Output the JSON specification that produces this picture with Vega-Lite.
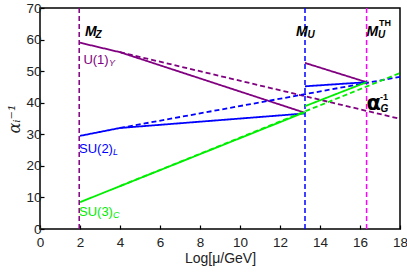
{
  "$schema": "https://vega.github.io/schema/vega-lite/v6.json",
  "width": 360,
  "height": 221,
  "autosize": {"type": "none"},
  "padding": {"left": 40, "top": 8, "right": 7, "bottom": 44},
  "background": "white",
  "config": {
    "view": {"stroke": "black", "strokeWidth": 1.5},
    "font": "Liberation Sans",
    "axis": {"grid": false, "domain": false, "tickColor": "black", "tickSize": -4, "tickWidth": 1.2, "labelFont": "Liberation Sans", "labelFontSize": 13.5, "labelColor": "#222", "labelOverlap": false, "labelFlush": false, "titleFont": "Liberation Sans", "titleFontSize": 14, "titleFontWeight": "normal", "titleColor": "#222", "labelPadding": 3}
  },
  "datasets": {
    "curves": [
      {"group": "U1", "seg": "U1a", "kind": "solid", "x": 2, "y": 59},
      {"group": "U1", "seg": "U1a", "kind": "solid", "x": 4, "y": 56},
      {"group": "U1", "seg": "U1a", "kind": "solid", "x": 13.25, "y": 36.8},
      {"group": "U1", "seg": "U1b", "kind": "solid", "x": 13.25, "y": 52.6},
      {"group": "U1", "seg": "U1b", "kind": "solid", "x": 16.33, "y": 46.5},
      {"group": "U1", "seg": "U1d", "kind": "dashed", "x": 4, "y": 56},
      {"group": "U1", "seg": "U1d", "kind": "dashed", "x": 18, "y": 34.9},
      {"group": "SU2", "seg": "SU2a", "kind": "solid", "x": 2, "y": 29.5},
      {"group": "SU2", "seg": "SU2a", "kind": "solid", "x": 4, "y": 32},
      {"group": "SU2", "seg": "SU2a", "kind": "solid", "x": 13.25, "y": 36.6},
      {"group": "SU2", "seg": "SU2b", "kind": "solid", "x": 13.25, "y": 45.2},
      {"group": "SU2", "seg": "SU2b", "kind": "solid", "x": 16.33, "y": 46.5},
      {"group": "SU2", "seg": "SU2d", "kind": "dashed", "x": 4, "y": 32},
      {"group": "SU2", "seg": "SU2d", "kind": "dashed", "x": 18, "y": 48.2},
      {"group": "SU3", "seg": "SU3a", "kind": "solid", "x": 2, "y": 8.5},
      {"group": "SU3", "seg": "SU3a", "kind": "solid", "x": 13.25, "y": 37.0},
      {"group": "SU3", "seg": "SU3b", "kind": "solid", "x": 13.25, "y": 38.9},
      {"group": "SU3", "seg": "SU3b", "kind": "solid", "x": 16.33, "y": 46.5},
      {"group": "SU3", "seg": "SU3d", "kind": "dashed", "x": 4, "y": 13.6},
      {"group": "SU3", "seg": "SU3d", "kind": "dashed", "x": 18, "y": 49.4}
    ],
    "scales": [
      {"group": "MZ", "x": 1.96},
      {"group": "MU", "x": 13.25},
      {"group": "MUTH", "x": 16.33}
    ],
    "names": [
      {"group": "U1", "text": "U(1)", "x": 2.17, "y": 52.3},
      {"group": "SU2", "text": "SU(2)", "x": 1.95, "y": 24.1},
      {"group": "SU3", "text": "SU(3)", "x": 1.95, "y": 4.2}
    ],
    "namesubs": [
      {"group": "U1", "text": "Y", "x": 3.45, "y": 51.6},
      {"group": "SU2", "text": "L", "x": 3.65, "y": 23.4},
      {"group": "SU3", "text": "C", "x": 3.65, "y": 3.6}
    ],
    "masses": [
      {"text": "M", "x": 2.25, "y": 61.0},
      {"text": "M", "x": 12.8, "y": 61.0},
      {"text": "M", "x": 16.33, "y": 61.0}
    ],
    "masssubs": [
      {"text": "Z", "x": 2.78, "y": 60.6},
      {"text": "U", "x": 13.38, "y": 60.5},
      {"text": "U", "x": 16.9, "y": 60.5}
    ],
    "masssups": [
      {"text": "TH", "x": 16.95, "y": 64.2}
    ],
    "alpha": [
      {"text": "α", "x": 16.33, "y": 37.8}
    ],
    "alphasub": [
      {"text": "G", "x": 17.03, "y": 37.1}
    ],
    "alphasup": [
      {"text": "-1", "x": 17.0, "y": 40.8}
    ]
  },
  "encoding": {
    "x": {"field": "x", "type": "quantitative", "scale": {"domain": [0, 18], "nice": false}, "axis": {"values": [0, 2, 4, 6, 8, 10, 12, 14, 16, 18], "labelOverlap": false, "labelPadding": 10, "title": "Log[μ/GeV]", "titlePadding": 3}}
  },
  "layer": [
    {
      "data": {"name": "scales"},
      "mark": {"type": "rule", "strokeWidth": 1.5, "strokeDash": [5, 3]},
      "encoding": {
        "color": {"field": "group", "type": "nominal", "scale": {"domain": ["MZ", "MU", "MUTH", "U1", "SU2", "SU3"], "range": ["#800080", "#0000ff", "#ff00ff", "#800080", "#0000ff", "#00ee00"]}, "legend": null}
      }
    },
    {
      "encoding": {
        "y": {"field": "y", "type": "quantitative", "scale": {"domain": [0, 70], "nice": false}, "axis": {"values": [0, 10, 20, 30, 40, 50, 60, 70], "labelOverlap": false, "title": "αᵢ⁻¹", "titleFont": "DejaVu Serif", "titleFontStyle": "italic", "titleFontSize": 16, "titlePadding": 3}}
      },
      "layer": [
        {
          "data": {"name": "curves"},
          "mark": {"type": "line", "strokeWidth": 1.8},
          "encoding": {
            "detail": {"field": "seg"},
            "color": {"field": "group", "type": "nominal", "legend": null},
            "strokeDash": {"field": "kind", "type": "nominal", "scale": {"domain": ["solid", "dashed"], "range": [[1, 0], [5, 3]]}, "legend": null}
          }
        },
        {
          "data": {"name": "names"},
          "mark": {"type": "text", "align": "left", "baseline": "alphabetic", "fontSize": 13},
          "encoding": {
            "text": {"field": "text"},
            "color": {"field": "group", "type": "nominal", "legend": null}
          }
        },
        {
          "data": {"name": "namesubs"},
          "mark": {"type": "text", "align": "left", "baseline": "alphabetic", "fontSize": 9, "fontStyle": "italic"},
          "encoding": {
            "text": {"field": "text"},
            "color": {"field": "group", "type": "nominal", "legend": null}
          }
        },
        {
          "data": {"name": "masses"},
          "mark": {"type": "text", "align": "left", "baseline": "alphabetic", "fontSize": 14, "fontStyle": "italic", "fontWeight": "bold", "color": "black"},
          "encoding": {"text": {"field": "text"}}
        },
        {
          "data": {"name": "masssubs"},
          "mark": {"type": "text", "align": "left", "baseline": "alphabetic", "fontSize": 10, "fontStyle": "italic", "fontWeight": "bold", "color": "black"},
          "encoding": {"text": {"field": "text"}}
        },
        {
          "data": {"name": "masssups"},
          "mark": {"type": "text", "align": "left", "baseline": "alphabetic", "fontSize": 9, "fontWeight": "bold", "color": "black"},
          "encoding": {"text": {"field": "text"}}
        },
        {
          "data": {"name": "alpha"},
          "mark": {"type": "text", "align": "left", "baseline": "alphabetic", "fontSize": 21, "fontWeight": "bold", "font": "DejaVu Sans", "color": "black"},
          "encoding": {"text": {"field": "text"}}
        },
        {
          "data": {"name": "alphasub"},
          "mark": {"type": "text", "align": "left", "baseline": "alphabetic", "fontSize": 10, "fontStyle": "italic", "fontWeight": "bold", "color": "black"},
          "encoding": {"text": {"field": "text"}}
        },
        {
          "data": {"name": "alphasup"},
          "mark": {"type": "text", "align": "left", "baseline": "alphabetic", "fontSize": 9, "fontWeight": "bold", "color": "black"},
          "encoding": {"text": {"field": "text"}}
        }
      ]
    }
  ]
}
